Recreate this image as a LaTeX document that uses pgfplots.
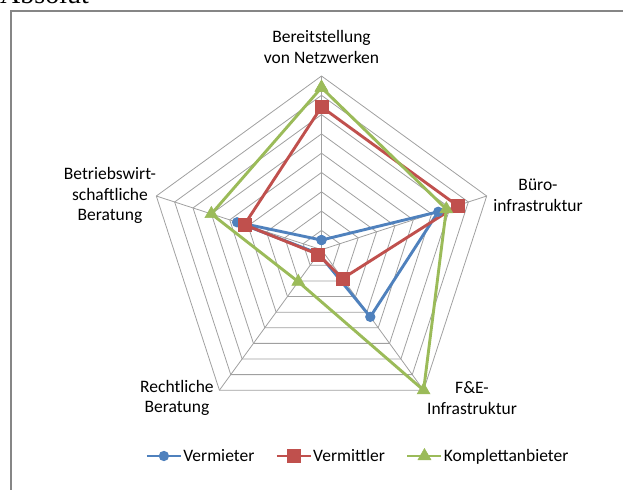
\documentclass[border=0pt]{standalone}
\usepackage{fontspec}
\setmainfont{Carlito}
\newfontfamily\seriffont{Liberation Serif}
\usepackage{pgfplots}
\pgfplotsset{compat=1.18}
\definecolor{cblue}{HTML}{4F81BD}
\definecolor{cred}{HTML}{C0504D}
\definecolor{cgreen}{HTML}{9BBB59}
\definecolor{gridgray}{HTML}{A0A0A0}
\definecolor{framegray}{HTML}{868686}
\begin{document}
\begin{tikzpicture}
\begin{axis}[
  x=19.3pt, y=19.3pt,
  xmin=-16.658, xmax=15.622, ymin=-12.399, ymax=12.938,
  hide axis, clip=false, scale only axis,
  legend columns=3,
  legend style={draw=none, at={(0.5738,0.0675)}, anchor=center,
    font=\fontsize{17.5}{20}\selectfont, inner sep=0pt,
    nodes={inner xsep=1pt, inner ysep=2pt},
    /tikz/every even column/.append style={column sep=20pt}},
  legend cell align=left,
  legend image code/.code={%
    \draw[mark repeat=2,mark phase=2,#1] plot coordinates {(0pt,0pt)(17pt,0pt)(34pt,0pt)};},
]
% frame
\draw[framegray, line width=1.4pt] (axis cs:-16.088,-20) |- (axis cs:20,12.368);
% grid rings
\pgfplotsinvokeforeach{1,...,9}{
  \addplot[gridgray, line width=0.8pt, data cs=polar, forget plot, mark=none]
    coordinates {(90,#1)(18,#1)(-54,#1)(-126,#1)(162,#1)(90,#1)};
}
% spokes
\addplot[gridgray, line width=0.8pt, data cs=polar, forget plot, mark=none] coordinates {(90,0)(90,9)};
\addplot[gridgray, line width=0.8pt, data cs=polar, forget plot, mark=none] coordinates {(18,0)(18,9)};
\addplot[gridgray, line width=0.8pt, data cs=polar, forget plot, mark=none] coordinates {(-54,0)(-54,9)};
\addplot[gridgray, line width=0.8pt, data cs=polar, forget plot, mark=none] coordinates {(-126,0)(-126,9)};
\addplot[gridgray, line width=0.8pt, data cs=polar, forget plot, mark=none] coordinates {(162,0)(162,9)};
% series
\addplot[cblue, line width=2.9pt, data cs=polar, mark=*, mark size=3.6pt, mark options={solid, fill=cblue}]
  coordinates {(90,0.5)(18,6.36)(-54,4.3)(-126,0.25)(162,4.6)(90,0.5)};
\addlegendentry{Vermieter}
\addplot[cred, line width=2.9pt, data cs=polar, mark=square*, mark size=6.5pt, mark options={solid, fill=cred, line width=0.5pt}]
  coordinates {(90,7.4)(18,7.4)(-54,1.85)(-126,0.3)(162,4.2)(90,7.4)};
\addlegendentry{Vermittler}
\addplot[cgreen, line width=2.9pt, data cs=polar, mark=triangle*, mark size=7.5pt, mark options={solid, fill=cgreen, line width=0.5pt}]
  coordinates {(90,8.4)(18,6.8)(-54,9.0)(-126,2.05)(162,6.0)(90,8.4)};
\addlegendentry{Komplettanbieter}
% labels
\node[align=center, font=\fontsize{17.5}{20.7}\selectfont] at (axis cs:0,10.5) {Bereitstellung\\von Netzwerken};
\node[align=center, font=\fontsize{17.5}{20.7}\selectfont] at (axis cs:11.22,2.83) {Büro-\\infrastruktur};
\node[align=center, font=\fontsize{17.5}{20.7}\selectfont] at (axis cs:7.80,-7.68) {F\&E-\\Infrastruktur};
\node[align=center, font=\fontsize{17.5}{20.7}\selectfont] at (axis cs:-7.49,-7.68) {Rechtliche\\Beratung};
\node[align=center, font=\fontsize{17.5}{20.7}\selectfont] at (axis cs:-10.96,2.81) {Betriebswirt-\\schaftliche\\Beratung};
\node[anchor=base west, inner sep=0pt, font=\seriffont\fontsize{28}{30}\selectfont] at (axis cs:-16.658,12.78) {Absolut};
\coordinate (SW) at (axis cs:-16.658,-12.399);
\coordinate (NE) at (axis cs:15.622,12.938);
\end{axis}
\pgfresetboundingbox
\path[use as bounding box] (SW) rectangle (NE);
\end{tikzpicture}
\end{document}
